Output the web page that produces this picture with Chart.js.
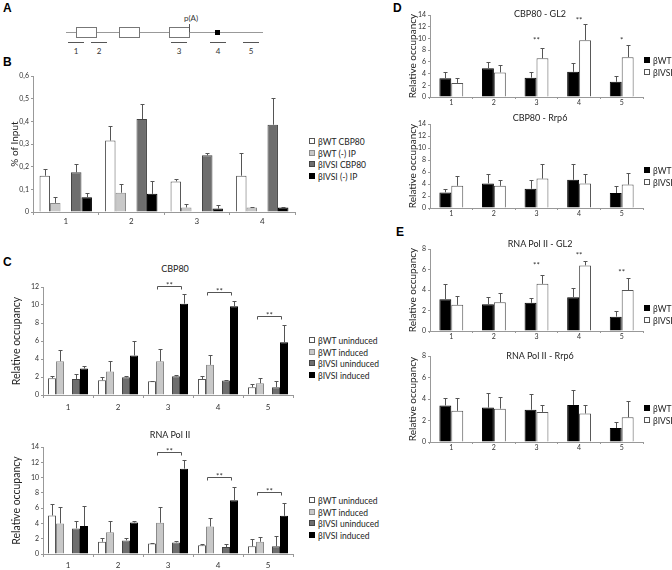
<!DOCTYPE html>
<html>
<head>
<script src="https://cdn.jsdelivr.net/npm/chart.js@4.4.0/dist/chart.umd.min.js"></script>
<style>
  body { margin: 0; background: #fff; }
  #fig { position: relative; width: 672px; height: 570px; overflow: hidden; font-family: Lato, "Open Sans", sans-serif; color: #222; }
  #fig canvas { position: absolute; }
  .letter { position: absolute; font: bold 12px "Liberation Sans", Arial, sans-serif; line-height: 12px; color: #000; }
  .ttl { position: absolute; font-size: 9px; transform: translate(-50%, -50%); white-space: nowrap; }
  .leg { position: absolute; font-size: 8.5px; line-height: 11.7px; white-space: nowrap; }
  .leg i { display: inline-block; width: 4px; height: 4px; border: 1px solid #666; margin-right: 3px; vertical-align: 1px; }
</style>
</head>
<body>
<div id="fig">
  <div class="letter" style="left:3px;top:2px">A</div>
  <div class="letter" style="left:3px;top:56px">B</div>
  <div class="letter" style="left:3px;top:256px">C</div>
  <div class="letter" style="left:393px;top:2px">D</div>
  <div class="letter" style="left:396px;top:226px">E</div>

  <svg style="position:absolute;left:0;top:0" width="300" height="60" font-family="Lato, sans-serif" font-size="8" fill="#333">
    <line x1="66" y1="32.5" x2="263" y2="32.5" stroke="#999"/>
    <rect x="76.5" y="27.5" width="20" height="10" fill="#fff" stroke="#777"/>
    <rect x="119.5" y="27.5" width="20" height="10" fill="#fff" stroke="#777"/>
    <rect x="169.5" y="27.5" width="20" height="10" fill="#fff" stroke="#777"/>
    <line x1="189.5" y1="32" x2="189.5" y2="24" stroke="#555"/>
    <text x="191" y="21" text-anchor="middle">p(A)</text>
    <rect x="215" y="30" width="5" height="5" fill="#000"/>
    <g stroke="#555">
      <line x1="68" y1="42.5" x2="84" y2="42.5"/>
      <line x1="91" y1="42.5" x2="107" y2="42.5"/>
      <line x1="171" y1="42.5" x2="187" y2="42.5"/>
      <line x1="210" y1="42.5" x2="226" y2="42.5"/>
      <line x1="243" y1="42.5" x2="259" y2="42.5"/>
    </g>
    <text x="76" y="54" text-anchor="middle">1</text>
    <text x="99" y="54" text-anchor="middle">2</text>
    <text x="179" y="54" text-anchor="middle">3</text>
    <text x="218" y="54" text-anchor="middle">4</text>
    <text x="251" y="54" text-anchor="middle">5</text>
  </svg>

  <canvas id="chB"></canvas>
  <canvas id="chC1"></canvas>
  <canvas id="chC2"></canvas>
  <canvas id="chD1"></canvas>
  <canvas id="chD2"></canvas>
  <canvas id="chE1"></canvas>
  <canvas id="chE2"></canvas>

  <div class="ttl" style="left:175px;top:268px">CBP80</div>
  <div class="ttl" style="left:170px;top:434px">RNA Pol II</div>
  <div class="ttl" style="left:540px;top:13px">CBP80 - GL2</div>
  <div class="ttl" style="left:540px;top:117px">CBP80 - Rrp6</div>
  <div class="ttl" style="left:540px;top:243px">RNA Pol II - GL2</div>
  <div class="ttl" style="left:540px;top:355px">RNA Pol II - Rrp6</div>

  <div id="legB" class="leg" style="left:309px;top:137px"></div>
  <div id="legC1" class="leg" style="left:309px;top:336px"></div>
  <div id="legC2" class="leg" style="left:309px;top:496px"></div>
  <div id="legD1" class="leg" style="left:644px;top:56px"></div>
  <div id="legD2" class="leg" style="left:644px;top:166px"></div>
  <div id="legE1" class="leg" style="left:644px;top:304px"></div>
  <div id="legE2" class="leg" style="left:644px;top:404px"></div>
</div>

<script>
// ---- data ----
const cats4 = ['1', '2', '3', '4'];
const cats5 = ['1', '2', '3', '4', '5'];

// B: % of input
const bWtCbp80 = [0.16, 0.315, 0.135, 0.16];
const bWtCbp80Err = [0.03, 0.065, 0.01, 0.10];
const bWtIp = [0.04, 0.085, 0.02, 0.02];
const bWtIpErr = [0.025, 0.04, 0.015, 0.002];
const bIvsiCbp80 = [0.175, 0.41, 0.25, 0.385];
const bIvsiCbp80Err = [0.035, 0.065, 0.01, 0.12];
const bIvsiIp = [0.065, 0.08, 0.015, 0.02];
const bIvsiIpErr = [0.02, 0.055, 0.015, 0.002];
const bTicks = ['0', '0,1', '0,2', '0,3', '0,4', '0,5', '0,6'];
const bNames = ['\u03b2WT CBP80', '\u03b2WT (-) IP', '\u03b2IVSI CBP80', '\u03b2IVSI (-) IP'];

// C: CBP80
const c1WtUn = [1.86, 1.64, 1.52, 1.78, 0.86];
const c1WtUnErr = [0.22, 0.33, 0.05, 0.3, 0.33];
const c1WtIn = [3.75, 2.6, 3.75, 3.35, 1.3];
const c1WtInErr = [1.23, 1.15, 1.38, 1.11, 0.63];
const c1IvUn = [1.78, 1.97, 2.08, 1.6, 0.86];
const c1IvUnErr = [0.52, 0.19, 0.11, 0.11, 0.66];
const c1IvIn = [2.94, 4.39, 10.15, 9.85, 5.87];
const c1IvInErr = [0.33, 1.6, 1.08, 0.6, 1.93];
const c1BrCats = [2, 3, 4];
const c1BrLevels = [12.1, 11.4, 8.8];

// C: RNA Pol II
const c2WtUn = [5.04, 1.6, 1.39, 1.13, 1.0];
const c2WtUnErr = [1.44, 0.53, 0.05, 0.13, 1.0];
const c2WtIn = [4.0, 2.83, 4.09, 3.6, 1.6];
const c2WtInErr = [2.09, 1.52, 2.0, 1.05, 0.66];
const c2IvUn = [3.35, 1.78, 1.52, 0.91, 1.0];
const c2IvUnErr = [1.0, 0.26, 0.13, 0.39, 1.35];
const c2IvIn = [3.65, 4.13, 11.17, 7.04, 5.0];
const c2IvInErr = [2.65, 0.22, 1.18, 1.74, 1.7];
const c2BrCats = [2, 3, 4];
const c2BrLevels = [13.35, 10.1, 8.13];
const cNames = ['\u03b2WT uninduced', '\u03b2WT induced', '\u03b2IVSI uninduced', '\u03b2IVSI induced'];

// D: CBP80 - GL2 / Rrp6
const d1Wt = [3.2, 4.9, 3.3, 4.3, 2.6];
const d1WtErr = [1.1, 1.1, 1.0, 1.5, 1.0];
const d1Iv = [2.4, 4.2, 6.6, 9.7, 6.8];
const d1IvErr = [0.9, 1.3, 1.7, 2.8, 2.1];
const d1StarCats = [2, 3, 4];
const d1StarLevels = [10, 13.5, 10];
const d1StarText = ['**', '**', '*'];
const d2Wt = [2.6, 4.1, 3.2, 4.7, 2.5];
const d2WtErr = [0.6, 1.5, 1.4, 2.6, 1.1];
const d2Iv = [3.7, 3.7, 4.9, 4.1, 3.9];
const d2IvErr = [1.7, 0.9, 2.5, 1.5, 2.0];

// E: RNA Pol II - GL2 / Rrp6
const e1Wt = [3.1, 2.6, 2.75, 3.3, 1.4];
const e1WtErr = [1.45, 0.75, 0.45, 0.9, 0.55];
const e1Iv = [2.55, 2.8, 4.6, 6.4, 4.0];
const e1IvErr = [0.9, 0.9, 0.9, 0.4, 1.15];
const e1StarCats = [2, 3, 4];
const e1StarLevels = [6.6, 7.6, 5.9];
const e1StarText = ['**', '**', '**'];
const e2Wt = [3.4, 3.2, 3.0, 3.45, 1.3];
const e2WtErr = [0.7, 1.4, 1.5, 1.35, 0.6];
const e2Iv = [2.9, 3.1, 2.8, 2.65, 2.3];
const e2IvErr = [1.15, 1.1, 0.6, 0.8, 1.55];
const deNames = ['\u03b2WT', '\u03b2IVSI'];

// ---- styles ----
const FONT = 'Lato, "Open Sans", sans-serif';
const fourFill = ['#ffffff', '#c8c8c8', '#6e6e6e', '#000000'];
const fourEdge = ['#555555', '#8a8a8a', '#444444', '#000000'];
const AXIS = '#999';

// error bars drawn from the y scale
const errBars = {
  id: 'errBars',
  afterDatasetsDraw(chart) {
    const ctx = chart.ctx, ys = chart.scales.y;
    chart.data.datasets.forEach((ds, i) => {
      if (!ds.errors) return;
      chart.getDatasetMeta(i).data.forEach((bar, j) => {
        const v = ds.data[j], e = ds.errors[j];
        if (v == null || e == null) return;
        const x = Math.round(bar.x) + 0.5;
        const yt = Math.round(ys.getPixelForValue(v + e)) + 0.5;
        ctx.save();
        ctx.strokeStyle = '#555';
        ctx.lineWidth = 1;
        ctx.beginPath();
        ctx.moveTo(x, bar.y);
        ctx.lineTo(x, yt);
        ctx.moveTo(x - 2, yt);
        ctx.lineTo(x + 2, yt);
        ctx.stroke();
        ctx.restore();
      });
    });
  }
};

// significance brackets and stars
const sigMarks = {
  id: 'sigMarks',
  afterDatasetsDraw(chart, args, opts) {
    const ctx = chart.ctx, ys = chart.scales.y, xs = chart.scales.x;
    ctx.save();
    ctx.strokeStyle = '#555';
    ctx.fillStyle = '#333';
    ctx.lineWidth = 1;
    ctx.font = '8px ' + FONT;
    ctx.textAlign = 'center';
    (opts.brackets || []).forEach(b => {
      const a = chart.getDatasetMeta(b.from).data[b.cat];
      const z = chart.getDatasetMeta(b.to).data[b.cat];
      const x1 = Math.round(a.x - a.width / 2) + 1.5;
      const x2 = Math.round(z.x - z.width / 2) + 1.5;
      const y = Math.round(ys.getPixelForValue(b.level)) + 0.5;
      ctx.beginPath();
      ctx.moveTo(x1, y + 3); ctx.lineTo(x1, y); ctx.lineTo(x2, y); ctx.lineTo(x2, y + 3);
      ctx.stroke();
      ctx.fillText('**', (x1 + x2) / 2, y + 1);
    });
    (opts.stars || []).forEach(s => {
      ctx.textBaseline = 'middle';
      ctx.fillText(s.text, xs.getPixelForValue(s.cat), ys.getPixelForValue(s.level) + 2);
    });
    ctx.restore();
  }
};

function barChart(id, box, labels, datasets, y, sig) {
  const cv = document.getElementById(id);
  const padT = 8, padR = 6;
  const w = box.r - box.l + box.yw + padR;
  const h = box.b - box.t + padT + box.xh;
  cv.width = w; cv.height = h;
  cv.style.left = (box.l - box.yw) + 'px';
  cv.style.top = (box.t - padT) + 'px';
  cv.style.width = w + 'px'; cv.style.height = h + 'px';
  return new Chart(cv, {
    type: 'bar',
    data: { labels: labels, datasets: datasets },
    plugins: [errBars, sigMarks],
    options: {
      responsive: false,
      animation: false,
      layout: { padding: { top: padT, right: padR, left: 0, bottom: 0 } },
      plugins: { legend: { display: false }, tooltip: { enabled: false }, sigMarks: sig || {} },
      scales: {
        x: {
          grid: { drawOnChartArea: false, tickLength: box.xtl, color: AXIS, offset: true },
          border: { color: AXIS },
          ticks: { font: { family: FONT, size: box.xf }, color: '#333', padding: box.xpad },
          afterFit: s => { s.height = box.xh; }
        },
        y: {
          min: 0, max: y.max,
          grid: { drawOnChartArea: false, tickLength: 2, color: AXIS },
          border: { color: AXIS },
          ticks: { stepSize: y.step, font: { family: FONT, size: 7 }, color: '#333', padding: 2,
                   callback: y.ticks ? ((v, i) => y.ticks[i]) : (v => v) },
          title: { display: true, text: y.title, font: { family: FONT, size: y.tf }, color: '#222', padding: 0 },
          afterFit: s => { s.width = box.yw; }
        }
      }
    }
  });
}

function four(vals, errs, cp) {
  const ds = vals.map((v, k) => ({
    data: v, errors: errs[k], backgroundColor: fourFill[k], borderColor: fourEdge[k],
    borderWidth: 1, barPercentage: 1, categoryPercentage: cp
  }));
  // empty slot between the two pairs of bars
  ds.splice(2, 0, { data: vals[0].map(() => null), barPercentage: 1, categoryPercentage: cp });
  return ds;
}

function two(wt, wtErr, iv, ivErr) {
  return [
    { data: wt, errors: wtErr, backgroundColor: '#000', borderColor: '#000', borderWidth: 1, barPercentage: 1, categoryPercentage: 0.56 },
    { data: iv, errors: ivErr, backgroundColor: '#fff', borderColor: '#555', borderWidth: 1, barPercentage: 1, categoryPercentage: 0.56 }
  ];
}

function legend(id, names, fills, edges) {
  document.getElementById(id).innerHTML = names.map((n, k) =>
    '<div><i style="background:' + fills[k] + ';border-color:' + edges[k] + '"></i>' + n + '</div>').join('');
}

function brackets(cats, levels) {
  return cats.map((c, k) => ({ cat: c, from: 1, to: 4, level: levels[k] }));
}
function stars(cats, levels, texts) {
  return cats.map((c, k) => ({ cat: c, level: levels[k], text: texts[k] }));
}

// ---- panels ----
barChart('chB', { l: 33, t: 76, r: 295, b: 212, yw: 24, xh: 16, xtl: 3, xpad: 2, xf: 8 }, cats4,
  four([bWtCbp80, bWtIp, bIvsiCbp80, bIvsiIp], [bWtCbp80Err, bWtIpErr, bIvsiCbp80Err, bIvsiIpErr], 0.8),
  { max: 0.6, step: 0.1, ticks: bTicks, title: '% of Input', tf: 10 });

barChart('chC1', { l: 43, t: 287, r: 293, b: 395, yw: 33, xh: 20, xtl: 3, xpad: 5, xf: 8 }, cats5,
  four([c1WtUn, c1WtIn, c1IvUn, c1IvIn], [c1WtUnErr, c1WtInErr, c1IvUnErr, c1IvInErr], 0.8),
  { max: 12, step: 2, title: 'Relative occupancy', tf: 10.5 },
  { brackets: brackets(c1BrCats, c1BrLevels) });

barChart('chC2', { l: 43, t: 447, r: 293, b: 554, yw: 33, xh: 16, xtl: 3, xpad: 4, xf: 8 }, cats5,
  four([c2WtUn, c2WtIn, c2IvUn, c2IvIn], [c2WtUnErr, c2WtInErr, c2IvUnErr, c2IvInErr], 0.8),
  { max: 14, step: 2, title: 'Relative occupancy', tf: 10.5 },
  { brackets: brackets(c2BrCats, c2BrLevels) });

barChart('chD1', { l: 430, t: 15, r: 643, b: 97, yw: 23, xh: 12, xtl: 2, xpad: 0, xf: 7 }, cats5,
  two(d1Wt, d1WtErr, d1Iv, d1IvErr),
  { max: 14, step: 2, title: 'Relative occupancy', tf: 10 },
  { stars: stars(d1StarCats, d1StarLevels, d1StarText) });

barChart('chD2', { l: 430, t: 124, r: 643, b: 208, yw: 23, xh: 12, xtl: 2, xpad: 0, xf: 7 }, cats5,
  two(d2Wt, d2WtErr, d2Iv, d2IvErr),
  { max: 14, step: 2, title: 'Relative occupancy', tf: 10 });

barChart('chE1', { l: 430, t: 249, r: 643, b: 331, yw: 23, xh: 12, xtl: 2, xpad: 0, xf: 7 }, cats5,
  two(e1Wt, e1WtErr, e1Iv, e1IvErr),
  { max: 8, step: 1, title: 'Relative occupancy', tf: 10 },
  { stars: stars(e1StarCats, e1StarLevels, e1StarText) });

barChart('chE2', { l: 430, t: 356, r: 643, b: 442, yw: 23, xh: 12, xtl: 2, xpad: 0, xf: 7 }, cats5,
  two(e2Wt, e2WtErr, e2Iv, e2IvErr),
  { max: 8, step: 1, title: 'Relative occupancy', tf: 10 });

legend('legB', bNames, fourFill, fourEdge);
legend('legC1', cNames, fourFill, fourEdge);
legend('legC2', cNames, fourFill, fourEdge);
['legD1', 'legD2', 'legE1', 'legE2'].forEach(id => legend(id, deNames, ['#000', '#fff'], ['#000', '#555']));
</script>
</body>
</html>
